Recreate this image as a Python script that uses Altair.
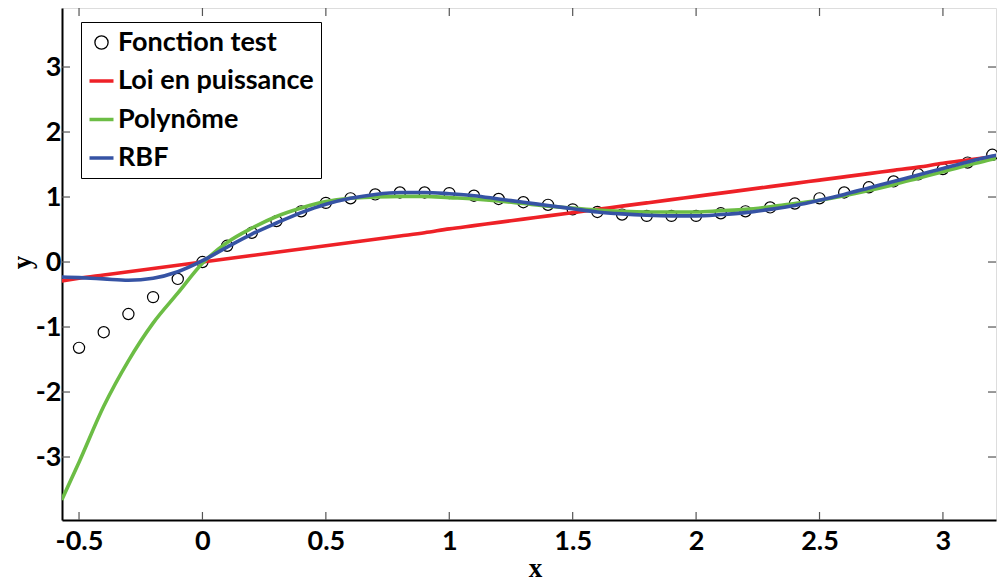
import altair as alt
import pandas as pd

# ---- data ----
x_test = [-0.5, -0.4, -0.3, -0.2, -0.1, 0.0, 0.1, 0.2, 0.3, 0.4, 0.5, 0.6, 0.7, 0.8, 0.9,
          1.0, 1.1, 1.2, 1.3, 1.4, 1.5, 1.6, 1.7, 1.8, 1.9, 2.0, 2.1, 2.2, 2.3, 2.4, 2.5,
          2.6, 2.7, 2.8, 2.9, 3.0, 3.1, 3.2]
y_test = [-1.32, -1.08, -0.80, -0.54, -0.26, 0.00, 0.25, 0.45, 0.63, 0.78, 0.91, 0.98,
          1.04, 1.07, 1.07, 1.06, 1.02, 0.97, 0.92, 0.88, 0.81, 0.77, 0.73, 0.71, 0.71,
          0.71, 0.75, 0.78, 0.84, 0.90, 0.98, 1.07, 1.15, 1.24, 1.35, 1.43, 1.53, 1.65]

x_curve = [-0.57, -0.5, -0.4, -0.3, -0.2, -0.1, 0.0, 0.1, 0.2, 0.3, 0.4, 0.5, 0.6, 0.7,
           0.8, 0.9, 1.0, 1.1, 1.2, 1.3, 1.4, 1.5, 1.6, 1.7, 1.8, 1.9, 2.0, 2.1, 2.2, 2.3,
           2.4, 2.5, 2.6, 2.7, 2.8, 2.9, 3.0, 3.1, 3.2, 3.24]
y_power = [-0.29, -0.25, -0.20, -0.15, -0.10, -0.05, 0.00, 0.05, 0.10, 0.15, 0.20, 0.25,
           0.30, 0.35, 0.40, 0.45, 0.51, 0.56, 0.61, 0.66, 0.71, 0.76, 0.81, 0.86, 0.91,
           0.96, 1.01, 1.06, 1.11, 1.16, 1.21, 1.26, 1.31, 1.36, 1.41, 1.46, 1.52, 1.57,
           1.62, 1.64]
y_poly = [-3.66, -3.08, -2.22, -1.52, -0.94, -0.48, -0.02, 0.30, 0.52, 0.70, 0.83, 0.93,
          0.98, 1.00, 1.01, 1.01, 0.99, 0.97, 0.94, 0.90, 0.86, 0.83, 0.80, 0.78, 0.77,
          0.77, 0.77, 0.79, 0.81, 0.85, 0.90, 0.95, 1.02, 1.10, 1.19, 1.29, 1.39, 1.49,
          1.58, 1.62]
y_rbf = [-0.23, -0.24, -0.26, -0.28, -0.25, -0.15, 0.02, 0.23, 0.43, 0.60, 0.76, 0.89,
         0.98, 1.04, 1.07, 1.07, 1.05, 1.02, 0.97, 0.92, 0.87, 0.82, 0.77, 0.74, 0.72,
         0.71, 0.71, 0.73, 0.76, 0.81, 0.87, 0.95, 1.04, 1.14, 1.24, 1.34, 1.44, 1.54,
         1.63, 1.66]

series_names = ["Fonction test", "Loi en puissance", "Polynôme", "RBF"]
series_colors = ["#000000", "#EE2127", "#6CBD45", "#3653A4"]

x_ticks = [-0.5, 0, 0.5, 1, 1.5, 2, 2.5, 3]
y_ticks = [-3, -2, -1, 0, 1, 2, 3]

x_domain = [-0.569, 3.215]
y_domain = [-3.969, 3.908]

W, H = 934, 512
TICK = 8

pts = pd.DataFrame({"x": x_test, "y": y_test, "series": series_names[0]})
lines = pd.concat([
    pd.DataFrame({"x": x_curve, "y": y_power, "series": series_names[1]}),
    pd.DataFrame({"x": x_curve, "y": y_poly, "series": series_names[2]}),
    pd.DataFrame({"x": x_curve, "y": y_rbf, "series": series_names[3]}),
], ignore_index=True)
xt = pd.DataFrame({"v": x_ticks})
yt = pd.DataFrame({"v": y_ticks})

xs = alt.Scale(domain=x_domain, nice=False, zero=False)
ys = alt.Scale(domain=y_domain, nice=False, zero=False)

circle_path = "M0.55,0A0.55,0.55 0 1,1 -0.55,0A0.55,0.55 0 1,1 0.55,0Z"

FONT = "Lato"
FS = 27

color = alt.Color(
    "series:N",
    scale=alt.Scale(domain=series_names, range=series_colors),
    legend=alt.Legend(
        title=None,
        orient="none",
        legendX=19,
        legendY=14,
        strokeColor="#000000",
        fillColor="#ffffff",
        padding=7,
        rowPadding=10.5,
        labelFont=FONT,
        labelFontSize=FS,
        labelFontWeight="bold",
        labelColor="#000000",
        labelOffset=3,
        labelLimit=400,
        symbolSize=576,
        symbolType={"expr": "datum.value == 'Fonction test' ? '" + circle_path + "' : 'stroke'"},
        symbolStrokeWidth={"expr": "datum.value == 'Fonction test' ? 1.3 : 3.5"},
        symbolFillColor="transparent",
    ),
)

xaxis = alt.Axis(
    values=x_ticks, ticks=False, grid=False,
    labelExpr="toString(datum.value)",
    labelFont=FONT, labelFontSize=FS, labelFontWeight="bold", labelColor="#000000",
    labelPadding=8, labelFlush=False, labelOverlap=False,
    domainColor="#000000", domainWidth=2,
    title="x", titleFont="Liberation Serif", titleFontSize=27, titleFontWeight="bold",
    titleColor="#000000", titleX=473, titleY=56, titleBaseline="alphabetic",
)
yaxis = alt.Axis(
    values=y_ticks, ticks=False, grid=False,
    labelExpr="toString(datum.value)",
    labelFont=FONT, labelFontSize=FS, labelFontWeight="bold", labelColor="#000000",
    labelPadding=1, labelOverlap=False,
    domainColor="#000000", domainWidth=2,
    title="y", titleFont="Liberation Serif", titleFontSize=27, titleFontWeight="bold",
    titleColor="#000000", titleX=-40, titleY=254, titleBaseline="middle", titleAngle=-90,
)

points = alt.Chart(pts).mark_point(filled=False, size=125, strokeWidth=1.2, opacity=1).encode(
    x=alt.X("x:Q", scale=xs, axis=xaxis),
    y=alt.Y("y:Q", scale=ys, axis=yaxis),
    color=color,
)

curves = alt.Chart(lines).mark_line(clip=True, strokeWidth=3.6, interpolate="monotone").encode(
    x=alt.X("x:Q", scale=xs),
    y=alt.Y("y:Q", scale=ys),
    color=color,
    detail="series:N",
)

tick_style = dict(color="#555555", strokeWidth=1.2)
xt_bottom = alt.Chart(xt).mark_rule(**tick_style).encode(
    x=alt.X("v:Q", scale=xs), y=alt.value(H), y2=alt.value(H - TICK))
xt_top = alt.Chart(xt).mark_rule(**tick_style).encode(
    x=alt.X("v:Q", scale=xs), y=alt.value(0), y2=alt.value(TICK))
yt_left = alt.Chart(yt).mark_rule(**tick_style).encode(
    y=alt.Y("v:Q", scale=ys), x=alt.value(0), x2=alt.value(TICK))
yt_right = alt.Chart(yt).mark_rule(**tick_style).encode(
    y=alt.Y("v:Q", scale=ys), x=alt.value(W), x2=alt.value(W - TICK))

chart = alt.layer(points, curves, xt_bottom, xt_top, yt_left, yt_right).properties(
    width=W, height=H,
    autosize=alt.AutoSizeParams(type="none"),
    padding={"left": 54, "top": 0, "right": 1, "bottom": 62},
).configure_view(
    stroke="#222222", strokeWidth=1.5
).configure(background="#ffffff")

chart.save("out.html", embed_options={"renderer": "svg", "actions": False})
